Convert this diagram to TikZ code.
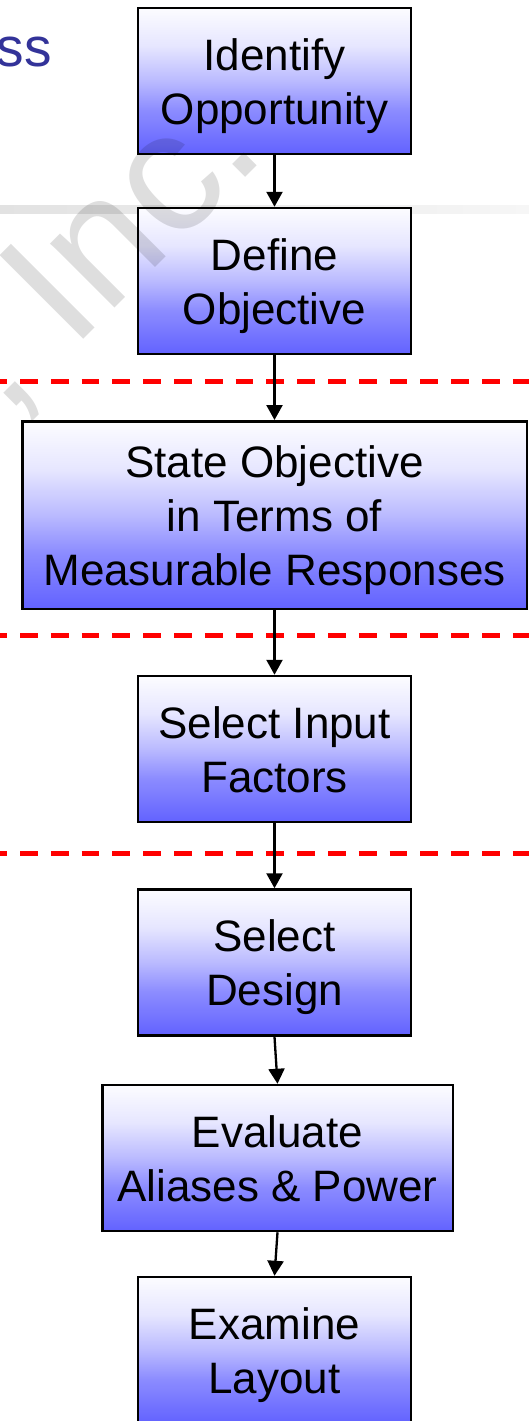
\documentclass[tikz,border=0pt]{standalone}
\usepackage{fontspec}
\setmainfont{Liberation Sans}
\usetikzlibrary{arrows.meta}
\definecolor{bbot}{RGB}{98,98,255}
\definecolor{bm1}{RGB}{140,140,255}
\definecolor{bm2}{RGB}{186,186,255}
\definecolor{bm3}{RGB}{230,230,255}
\definecolor{btop}{RGB}{252,252,255}
\definecolor{ttlblue}{RGB}{51,51,153}
\definecolor{bandl}{RGB}{226,226,226}
\definecolor{bandr}{RGB}{246,246,246}
\pgfdeclareverticalshading{boxgrad}{100bp}{color(0bp)=(bbot); color(25bp)=(bbot); color(40bp)=(bm1); color(50bp)=(bm2); color(62bp)=(bm3); color(75bp)=(btop); color(100bp)=(btop)}
\tikzset{
  stepbox/.style={draw=black, line width=2.5pt, shading=boxgrad, inner sep=0pt, rectangle},
  boxtxt/.style={font=\fontsize{44}{54}\selectfont, align=center, inner sep=0pt, text=black},
  flow/.style={-{Triangle[width=16pt,length=15pt]}, line width=2.3pt, draw=black},
  sepline/.style={draw=red, line width=4.5pt, dash pattern=on 17.8pt off 13pt},
  wm/.style={text=black, text opacity=0.13, font=\fontsize{172}{172}\selectfont, inner sep=0pt},
  ttl/.style={text=ttlblue, font=\fontsize{55}{55}\selectfont, inner sep=0pt}
}
\begin{document}
\begin{tikzpicture}[x=1pt,y=-1pt]
\useasboundingbox (0,0) rectangle (529,1421);
\clip (0,0) rectangle (529,1421);
\fill[white] (0,0) rectangle (529,1421);
% faint band
\shade[left color=bandl, right color=bandr] (0,205) rectangle (529,213);
% dashed separators
\draw[sepline] (-10.8,381.7) -- (540,381.7);
\draw[sepline] (-10.8,635.7) -- (540,635.7);
\draw[sepline] (-10.8,853.3) -- (540,853.3);
% boxes
\node[stepbox, minimum width=273pt, minimum height=146pt] (b1) at (274.5,81) {};
\node[stepbox, minimum width=273pt, minimum height=146pt] (b2) at (274.5,281) {};
\node[stepbox, minimum width=504.5pt, minimum height=187.5pt] (b3) at (274.5,515) {};
\node[stepbox, minimum width=273pt, minimum height=146pt] (b4) at (274.5,749) {};
\node[stepbox, minimum width=273pt, minimum height=146pt] (b5) at (274.5,962.5) {};
\node[stepbox, minimum width=350.5pt, minimum height=146pt] (b6) at (277.5,1158) {};
\node[stepbox, minimum width=273pt, minimum height=146pt] (b7) at (274.5,1350) {};
% connectors
\draw[flow] (b1.south) -- (b2.north);
\draw[flow] (b2.south) -- (b2.south |- b3.north);
\draw[flow] (b3.south -| b4.north) -- (b4.north);
\draw[flow] (b4.south) -- (b5.north);
\draw[flow] (b5.south) -- (b6.north);
\draw[flow] (b6.south) -- (b7.north);
% texts
\node[boxtxt] (t1) at ([yshift=-5.2pt]b1.center) {Identify\strut\\Opportunity\strut};
\node[boxtxt] (t2) at ([yshift=-5.2pt]b2.center) {Define\strut\\Objective\strut};
\node[boxtxt] (t3) at ([yshift=-5.2pt]b3.center) {State Objective\strut\\in Terms of\strut\\Measurable Responses\strut};
\node[boxtxt] (t4) at ([yshift=-5.2pt]b4.center) {Select Input\strut\\Factors\strut};
\node[boxtxt] (t5) at ([yshift=-5.2pt]b5.center) {Select\strut\\Design\strut};
\node[boxtxt] (t6) at ([yshift=-5.2pt]b6.center) {Evaluate\strut\\Aliases \& Power\strut};
\node[boxtxt] (t7) at ([yshift=-5.2pt]b7.center) {Examine\strut\\Layout\strut};
% watermark
\node[wm, anchor=base west, rotate=45] (wmk) at (5,418) {, Inc.};
% title fragment
\node[ttl, anchor=base east] (ttl) at (52,66.5) {ss};
\end{tikzpicture}
\end{document}
